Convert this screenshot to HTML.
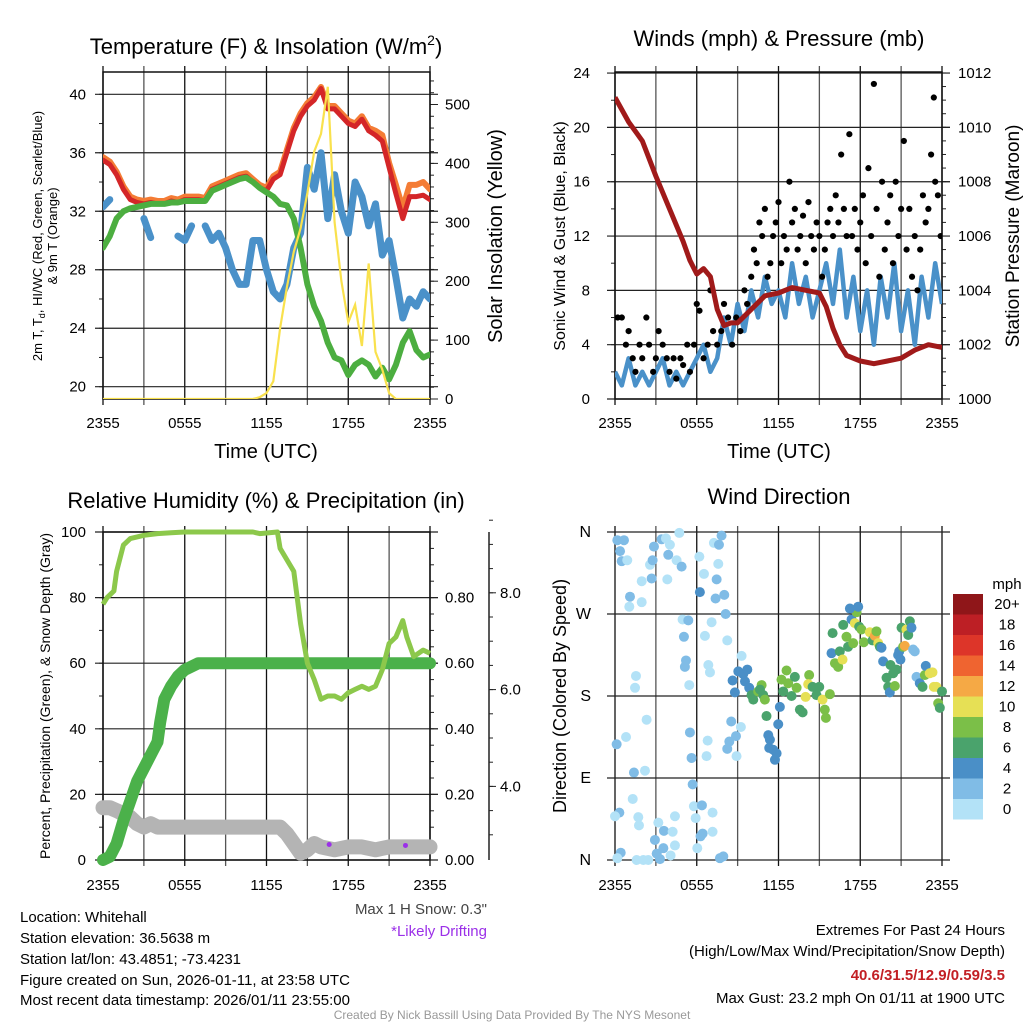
<!DOCTYPE html>
<html><head><meta charset="utf-8"><style>
body{margin:0;background:#fff;}
svg{display:block;font-family:"Liberation Sans",sans-serif;}
</style></head><body>
<svg id="s" width="1024" height="1024" viewBox="0 0 1024 1024">
<defs>
<clipPath id="c1"><rect x="103" y="72" width="327" height="327"/></clipPath>
<clipPath id="c2"><rect x="615" y="72" width="327" height="327"/></clipPath>
<clipPath id="c3"><rect x="95" y="526" width="343" height="340"/></clipPath>
<clipPath id="c4"><rect x="609" y="526" width="340" height="340"/></clipPath>
</defs>
<g id="g"></g>
<text x="266" y="54" font-size="22" text-anchor="middle">Temperature (F) &amp; Insolation (W/m<tspan dy="-9" font-size="14">2</tspan><tspan dy="9">)</tspan></text>
<text x="779" y="46" font-size="22" text-anchor="middle">Winds (mph) &amp; Pressure (mb)</text>
<text x="266" y="508" font-size="22" text-anchor="middle">Relative Humidity (%) &amp; Precipitation (in)</text>
<text x="779" y="504" font-size="22" text-anchor="middle">Wind Direction</text>
<text x="266" y="458" font-size="20" text-anchor="middle">Time (UTC)</text>
<text x="779" y="458" font-size="20" text-anchor="middle">Time (UTC)</text>
<text transform="translate(42,236) rotate(-90)" font-size="13" text-anchor="middle">2m T, T<tspan font-size="9" dy="3">d</tspan><tspan dy="-3">, HI/WC (Red, Green, Scarlet/Blue)</tspan></text>
<text transform="translate(57,236) rotate(-90)" font-size="13" text-anchor="middle">&amp; 9m T (Orange)</text>
<text transform="translate(502,236) rotate(-90)" font-size="20" text-anchor="middle">Solar Insolation (Yellow)</text>
<text transform="translate(565,236) rotate(-90)" font-size="16" text-anchor="middle">Sonic Wind &amp; Gust (Blue, Black)</text>
<text transform="translate(1019,236) rotate(-90)" font-size="19" text-anchor="middle">Station Pressure (Maroon)</text>
<text transform="translate(50,696) rotate(-90)" font-size="14" text-anchor="middle">Percent, Precipitation (Green), &amp; Snow Depth (Gray)</text>
<text transform="translate(566,696) rotate(-90)" font-size="18" text-anchor="middle">Direction (Colored By Speed)</text>
<text x="1007" y="589" font-size="15" text-anchor="middle">mph</text>
<g font-size="15">
<text x="20" y="922">Location: Whitehall</text>
<text x="20" y="943">Station elevation: 36.5638 m</text>
<text x="20" y="964">Station lat/lon: 43.4851; -73.4231</text>
<text x="20" y="985">Figure created on Sun, 2026-01-11, at 23:58 UTC</text>
<text x="20" y="1005">Most recent data timestamp: 2026/01/11 23:55:00</text>
</g>
<text x="487" y="914" font-size="15" fill="#444" text-anchor="end">Max 1 H Snow: 0.3"</text>
<text x="487" y="936" font-size="15" fill="#9b30e8" text-anchor="end">*Likely Drifting</text>
<g font-size="15" text-anchor="end">
<text x="1005" y="935">Extremes For Past 24 Hours</text>
<text x="1005" y="956">(High/Low/Max Wind/Precipitation/Snow Depth)</text>
<text x="1005" y="980" fill="#c21f24" font-weight="bold">40.6/31.5/12.9/0.59/3.5</text>
<text x="1005" y="1003">Max Gust: 23.2 mph On 01/11 at 1900 UTC</text>
</g>
<text x="512" y="1019" font-size="12" fill="#999" text-anchor="middle">Created By Nick Bassill Using Data Provided By The NYS Mesonet</text>
</svg>
<script>
// ---------- data ----------
const xTickLabels=["2355","0555","1155","1755","2355"];
const tempHours=[0,0.5,1,1.5,2,2.5,3,3.5,4,4.5,5,5.5,6,6.5,7,7.5,8,8.5,9,9.5,10,10.5,11,11.5,12,12.5,13,13.5,14,14.5,15,15.5,16,16.5,17,17.5,18,18.5,19,19.5,20,20.5,21,21.5,22,22.5,23,23.5,24];
const tempRed=[35.5,35.2,34.5,33.5,32.8,32.6,32.5,32.6,32.5,32.5,32.7,32.6,32.8,32.8,32.8,32.7,33.5,33.7,33.9,34.1,34.3,34.4,34.0,33.6,33.4,34.2,34.5,36.0,37.5,38.5,39.2,39.6,40.4,39.0,39.0,38.5,38.0,37.8,38.3,37.5,37.2,36.8,35.0,33.2,31.5,33.0,33.0,33.1,32.8];
const temp9m=[35.7,35.4,34.7,33.7,33.0,32.8,32.7,32.8,32.7,32.7,32.9,32.8,33.0,33.0,33.0,32.9,33.7,33.9,34.1,34.3,34.5,34.6,34.2,33.8,33.6,34.4,34.7,36.2,37.7,38.7,39.4,39.8,40.5,39.2,39.2,38.7,38.2,38.0,38.5,37.7,37.5,37.2,35.3,33.8,32.2,33.8,33.8,34.0,33.5];
const tempDew=[29.5,30.3,31.5,32.0,32.2,32.3,32.4,32.5,32.5,32.5,32.6,32.6,32.7,32.7,32.7,32.7,33.4,33.6,33.8,34.0,34.2,34.3,34.0,33.6,33.3,33.0,32.5,32.4,31.5,29.5,27.0,25.5,24.5,23.0,22.0,21.8,20.8,21.5,21.8,21.5,20.7,21.3,20.5,21.5,23.0,23.8,22.5,22.0,22.2];
const tempWC=[32.3,32.8,null,null,null,null,31.5,30.2,null,null,null,30.3,30.0,31.0,null,31.0,30.0,30.5,29.5,28.0,27.0,27.0,30.0,30.0,28.0,26.5,26.0,27.0,29.5,30.5,35.0,33.5,36.0,31.5,34.5,32.0,30.5,34.0,33.0,31.0,32.5,29.0,30.0,27.5,24.7,26.0,25.5,26.5,26.0];
const solar=[0,0,0,0,0,0,0,0,0,0,0,0,0,0,0,0,0,0,0,0,0,0,0,3,10,30,120,190,250,290,350,420,450,530,300,200,130,160,90,230,80,50,10,0,0,0,0,0,0];
const presHours=[0,1,2,3,4,5,5.5,6,6.5,7,7.5,8,8.5,9,10,11,12,13,14,15,15.5,16,16.5,17,18,19,20,21,22,23,24];
const pressure=[1011.1,1010.2,1009.5,1008.2,1007.0,1005.8,1005.1,1004.6,1004.8,1004.5,1003.3,1002.7,1002.8,1002.8,1003.3,1003.8,1003.9,1004.1,1004.0,1003.9,1003.4,1002.6,1002.0,1001.6,1001.4,1001.3,1001.4,1001.5,1001.8,1002.0,1001.9];
const windSpeed=[2,1,3,1,2,1,2,3,1,2,1,2,3,4,2,3,6,4,7,5,8,6,9,7,8,6,10,7,9,6,8,10,7,11,6,9,5,8,4,9,6,10,5,8,4,9,6,10,7];
const gustHours=[0.2,0.5,0.8,1,1.3,1.5,1.8,2,2.3,2.5,2.8,3,3.2,3.5,3.8,4,4.3,4.5,4.8,5,5.3,5.5,5.8,6,6.2,6.5,6.8,7,7.2,7.5,7.8,8,8.3,8.6,8.9,9.2,9.5,9.7,10,10.2,10.4,10.6,10.8,11,11.2,11.4,11.6,11.8,12,12.2,12.4,12.6,12.8,13,13.2,13.4,13.6,13.8,14,14.2,14.4,14.6,14.8,15,15.2,15.4,15.6,15.8,16,16.2,16.4,16.6,16.8,17,17.2,17.4,17.6,17.8,18,18.2,18.4,18.6,18.8,19,19.2,19.4,19.6,19.8,20,20.2,20.4,20.6,20.8,21,21.2,21.4,21.6,21.8,22,22.2,22.4,22.6,22.8,23,23.2,23.4,23.5,23.7,23.9];
const gustVals=[6,6,4,5,3,2,4,3,6,4,2,3,5,4,3,2,3,1.5,3,2.5,4,2,4,7,6.5,3,4,8,5,4,5,7,6,4,6,5,8,7,9,11,10,13,12,14,9,10,12,13,14.5,10,12,11,16,13,14,11,12,13.5,10,14.5,12,11,13,12,9,11,13,14,12,15,13,18,14,12,19.5,12,14,11,13,15,10,17,12,23.2,14,9,16,11,13,15,10,16,12,14,19,11,14,9,12,8,11,15,13,14,18,22.2,16,15,12];
const rhHours=[0,0.3,0.8,1,1.5,2,3,4,5,6,7,8,9,10,11,11.5,12,12.8,13,14,14.5,15,15.5,16,16.5,17,17.5,18,18.5,19,19.5,20,20.5,21,21.5,22,22.3,22.8,23.5,24];
const rh=[78,80,82,88,96,98,99,99.5,99.8,100,100,100,100,100,100,99.5,99.7,100,95,88,72,60,55,49,50,50,49,51,52,53,52,53,58,66,68,73,68,62,64,63];
const precHours=[0,0.5,1,1.5,2,2.5,3,3.5,4,4.2,4.5,5,5.5,6,7,8,10,12,14,16,18,20,22,24];
const precip=[0,0.01,0.05,0.12,0.18,0.24,0.28,0.32,0.36,0.42,0.49,0.53,0.56,0.58,0.6,0.6,0.6,0.6,0.6,0.6,0.6,0.6,0.6,0.6];
const snowHours=[0,0.5,1,1.5,2,2.5,3,3.5,4,5,7,9,11,13,13.5,14,14.5,15,15.5,16,17,18,19,20,21,22,23,24];
const snowDepth=[3.56,3.56,3.5,3.43,3.36,3.23,3.16,3.23,3.16,3.16,3.16,3.16,3.16,3.16,3.02,2.82,2.62,2.69,2.82,2.75,2.69,2.75,2.75,2.69,2.75,2.75,2.75,2.75];
const driftHours=[16.6,22.2];
const driftDepth=[2.8,2.78];
const dirHours=[0.17,0.66,0.37,0.49,0.9,1.1,1.05,1.96,1.96,2.57,2.76,2.69,2.86,3.42,3.74,4.03,3.91,3.84,4.52,4.89,4.72,1.54,1.47,2.32,0.81,0.12,1.39,2.2,1.3,0.32,0,1.71,1.76,3.18,3.59,4.23,4.4,2.93,3.06,3.55,4.4,4.08,0.42,0.17,1.59,2.08,2.44,3.3,4.96,5.38,5.06,5.21,5.13,5.45,5.5,5.62,5.7,5.79,5.92,6.38,6.43,6.28,6.04,6.19,6.23,6.53,7.09,6.6,6.85,6.97,6.8,6.72,7.16,7.16,7.26,7.63,7.82,7.58,7.46,7.38,8.02,8.12,8.24,7.7,7.95,8.53,8.39,8.24,8.92,9.24,8.88,9.29,
8.63,8.8,9.05,9.41,9.71,9.54,9.85,10.02,10.15,10.51,10.76,10.64,10.88,11.0,11.12,11.25,11.37,11.32,11.61,11.74,11.86,11.98,12.1,12.22,12.35,12.59,12.71,12.96,13.2,13.33,13.57,13.77,13.99,14.25,14.18,14.5,14.79,14.99,15.23,15.4,15.48,15.77,15.89,15.97,16.14,16.38,16.5,16.7,16.75,16.99,17.11,17.36,17.48,17.6,17.73,17.85,17.24,17.92,18.09,18.26,18.7,18.9,19.07,19.19,19.32,19.44,19.56,19.68,19.93,20.05,20.17,20.22,20.42,20.54,20.66,20.86,20.78,20.95,21.03,21.15,21.27,21.39,21.52,21.64,21.76,21.88,22.0,22.13,22.37,22.57,22.74,22.81,23.1,23.3,23.4,23.59,23.72,23.84,24.0];
const dirDeg=[351,351,339,328,329,289,278,306,283,324,329,309,344,352,353,346,335,308,329,322,359,202,189,154,135,127,96,98,67,52,48,47,38,41,32,31,48,22,7,13,16,5,8,2,0,0,0,1,264,263,245,219,212,192,140,112,83,59,46,60,29,26,13,333,294,314,261,246,214,206,131,114,52,31,348,346,356,325,308,287,291,270,241,2,4,152,130,122,114,146,136,224,
197,184,207,204,209,196,189,181,176,185,192,187,181,176,158,137,132,123,121,110,117,149,168,198,185,208,194,180,201,189,165,162,179,203,193,190,181,190,176,165,156,182,227,249,216,212,229,220,258,245,234,264,238,260,272,278,276,256,253,239,250,241,246,251,238,234,233,218,200,190,184,214,205,191,209,229,225,220,255,234,235,253,247,262,255,231,229,201,194,190,203,213,205,206,190,190,172,167,185];
const dirSpeed=[3,3,3,3,1,3,1,1,1,1,3,3,3,3,1,1,3,1,1,3,1,1,1,1,1,3,3,1,1,3,1,1,1,1,3,1,1,3,3,3,1,1,3,1,1,1,1,3,1,3,3,3,3,1,3,3,3,1,1,3,3,3,1,1,5,1,1,1,1,1,1,1,1,1,1,3,3,1,3,3,3,3,1,3,3,3,3,3,1,1,3,1,
5,5,5,5,5,5,5,7,6,8,8,7,6,8,6,5,5,5,5,5,5,5,5,8,6,8,8,6,6,8,6,6,10,8,10,6,6,6,10,8,8,8,5,6,8,8,6,10,6,8,6,5,8,10,8,5,5,6,8,8,10,6,13,8,10,6,5,5,6,6,5,6,6,8,6,5,5,5,6,8,13,10,6,6,5,3,3,3,5,6,8,5,10,10,10,10,8,6,6];
const speedBins=["0","2","4","6","8","10","12","14","16","18","20+"];
const binColors=["#b3e2f7","#80bce6","#4a8fc7","#4aa36c","#7bbf48","#e6e055","#f5a945","#ef6430","#dd3529","#bd1f25","#8f1619"];

// ---------- scales ----------
const XL=h=>103+h*13.625, XR=h=>615+h*13.625;
const YT=t=>386.7-(t-20)*14.62, YS=w=>399-w*0.589;
const YW=m=>399-m*13.58, YP=p=>399-(p-1000)*27.17;
const YRH=v=>860-v*3.28, YPR=i=>860-i*328, YSN=v=>980-v*48.4;
const YD=d=>860-d*0.9111;

const NS="http://www.w3.org/2000/svg";
const G=document.getElementById('g');
function mk(tag,at,parent,txt){const e=document.createElementNS(NS,tag);for(const k in at)e.setAttribute(k,at[k]);if(txt!=null)e.textContent=txt;(parent||G).appendChild(e);return e;}
function pth(xs,ys,fx,fy){let d="",pen=false;for(let i=0;i<xs.length;i++){if(ys[i]==null){pen=false;continue;}d+=(pen?"L":"M")+fx(xs[i]).toFixed(1)+","+fy(ys[i]).toFixed(1);pen=true;}return d;}

function frame(x0,y0,x1,y1,name){
  const g=mk('g',{});
  
  
  for(let k=0;k<=8;k++){const x=x0+k*(x1-x0)/8;mk('line',{x1:x,y1:y0-6,x2:x,y2:y1+6,stroke:k%2?'#555':'#111','stroke-width':1.3},g);}
  return g;
}
function hline(g,x0,x1,y){mk('line',{x1:x0-8,y1:y,x2:x1+8,y2:y,stroke:'#222','stroke-width':1.2},g);}
function xlabels(x0,x1,y,name){xTickLabels.forEach((t,i)=>{const e=mk('text',{x:x0+i*(x1-x0)/4,y:y,'font-size':15,'text-anchor':'middle'},null,t);

});}
function lab(x,y,t,anchor,name,fs){const e=mk('text',{x:x,y:y+5,'font-size':fs||15,'text-anchor':anchor},null,t);

return e;}
function tick(x,y,len,horiz){if(horiz)mk('line',{x1:x,y1:y,x2:x+len,y2:y,stroke:'#222','stroke-width':1});else mk('line',{x1:x,y1:y,x2:x,y2:y+len,stroke:'#222','stroke-width':1});}

// ---------- panel 1 ----------
let g1=frame(103,72,430,399,'temperature');
for(let t=20;t<=40;t+=4){hline(g1,103,430,YT(t));lab(86,YT(t),String(t),'end','temp-y-tick-label');}
for(let t=20;t<=41;t+=2)tick(103,YT(t),-4,true);
for(let w=0;w<=500;w+=100){tick(430,YS(w),8,true);lab(445,YS(w),String(w),'start','solar-y-tick-label');}
for(let w=20;w<=540;w+=20)tick(430,YS(w),4,true);
mk('rect',{x:103,y:72,width:327,height:327,fill:'none',stroke:'#111','stroke-width':1.5});
xlabels(103,430,428,'temp');
const c1=mk('g',{'clip-path':'url(#c1)'});
const s1=[[tempWC,'#4a91c9',7,'wind-chill-line'],[temp9m,'#f47c35',6,'temp-9m-line'],[tempRed,'#d42628',5,'temp-2m-line'],[tempDew,'#4cae40',6,'dewpoint-line']];
s1.forEach(s=>{const e=mk('path',{d:pth(tempHours,s[0],XL,YT),fill:'none',stroke:s[1],'stroke-width':s[2],'stroke-linejoin':'round','stroke-linecap':'round'},c1);

});
let sp=mk('path',{d:pth(tempHours,solar,XL,YS),fill:'none',stroke:'#f9e14d','stroke-width':2.2},c1);



// ---------- panel 2 ----------
let g2=frame(615,72,942,399,'winds');
for(let m=0;m<=24;m+=4){hline(g2,615,942,YW(m));lab(590,YW(m),String(m),'end','wind-y-tick-label');}
for(let m=0;m<=24;m+=2)tick(615,YW(m),-4,true);
for(let p=1000;p<=1012;p+=2){tick(942,YP(p),8,true);lab(958,YP(p),String(p),'start','pressure-y-tick-label');}
for(let p=1000;p<=1012;p+=0.5)tick(942,YP(p),4,true);
mk('rect',{x:615,y:72,width:327,height:327,fill:'none',stroke:'#111','stroke-width':1.5});
xlabels(615,942,428,'winds');
const c2=mk('g',{'clip-path':'url(#c2)'});
let wl=mk('path',{d:pth(tempHours,windSpeed,XR,YW),fill:'none',stroke:'#4a91c9','stroke-width':4.5,'stroke-linejoin':'round'},c2);


gustHours.forEach((h,i)=>{const c=mk('circle',{cx:XR(h),cy:YW(gustVals[i]),r:3.1,fill:'#000'},c2);

});
let pl=mk('path',{d:pth(presHours,pressure,XR,YP),fill:'none',stroke:'#a01a1a','stroke-width':5,'stroke-linejoin':'round'},c2);



// ---------- panel 3 ----------
let g3=frame(103,532,430,860,'humidity');
for(let v=0;v<=100;v+=20){hline(g3,103,430,YRH(v));lab(86,YRH(v),String(v),'end','humidity-y-tick-label');}
for(let v=0;v<=100;v+=10)tick(103,YRH(v),-4,true);
for(let i=0;i<=0.8001;i+=0.2){tick(430,YPR(i),8,true);lab(445,YPR(i),i.toFixed(2),'start','precip-y-tick-label');}
for(let i=0;i<=1.0001;i+=0.05)tick(430,YPR(i),4,true);
mk('line',{x1:489,y1:532,x2:489,y2:860,stroke:'#222','stroke-width':1.5});
for(let v=4;v<=8;v+=2){tick(489,YSN(v),7,true);lab(500,YSN(v),v.toFixed(1),'start','snow-y-tick-label');}
for(let v=3;v<=9.5;v+=0.5)tick(489,YSN(v),4,true);
mk('rect',{x:103,y:532,width:327,height:328,fill:'none',stroke:'#111','stroke-width':1.5});
xlabels(103,430,890,'humidity');
const c3=mk('g',{'clip-path':'url(#c3)'});
let snl=mk('path',{d:pth(snowHours,snowDepth,XL,YSN),fill:'none',stroke:'#b4b4b4','stroke-width':15,'stroke-linejoin':'round','stroke-linecap':'round'},c3);


let prl=mk('path',{d:pth(precHours,precip,XL,YPR),fill:'none',stroke:'#4bb14a','stroke-width':12,'stroke-linejoin':'round','stroke-linecap':'round'},c3);


let rhl=mk('path',{d:pth(rhHours,rh,XL,YRH),fill:'none',stroke:'#8cc84b','stroke-width':5,'stroke-linejoin':'round'},c3);


driftHours.forEach((h,i)=>{const c=mk('circle',{cx:XL(h),cy:YSN(driftDepth[i]),r:2.5,fill:'#9b30e8'},c3);

});

// ---------- panel 4 ----------
let g4=frame(615,532,942,860,'direction');
["N","W","S","E","N"].forEach((t,i)=>{const y=532+i*82;hline(g4,615,942,y);lab(591,y,t,'end','direction-y-tick-label',16);});
xlabels(615,942,890,'direction');
const c4=mk('g',{'clip-path':'url(#c4)'});
dirHours.forEach((h,i)=>{const b=Math.min(10,Math.floor(dirSpeed[i]/2));
const c=mk('circle',{cx:XR(h),cy:YD(dirDeg[i]),r:5,fill:binColors[b]},c4);

});
speedBins.forEach((t,i)=>{const y=799-i*20.5;
const r=mk('rect',{x:953,y:y,width:30,height:20.5,fill:binColors[i]});


lab(1007,y+10,t,'middle','colorbar-label');});
</script>
</body></html>
